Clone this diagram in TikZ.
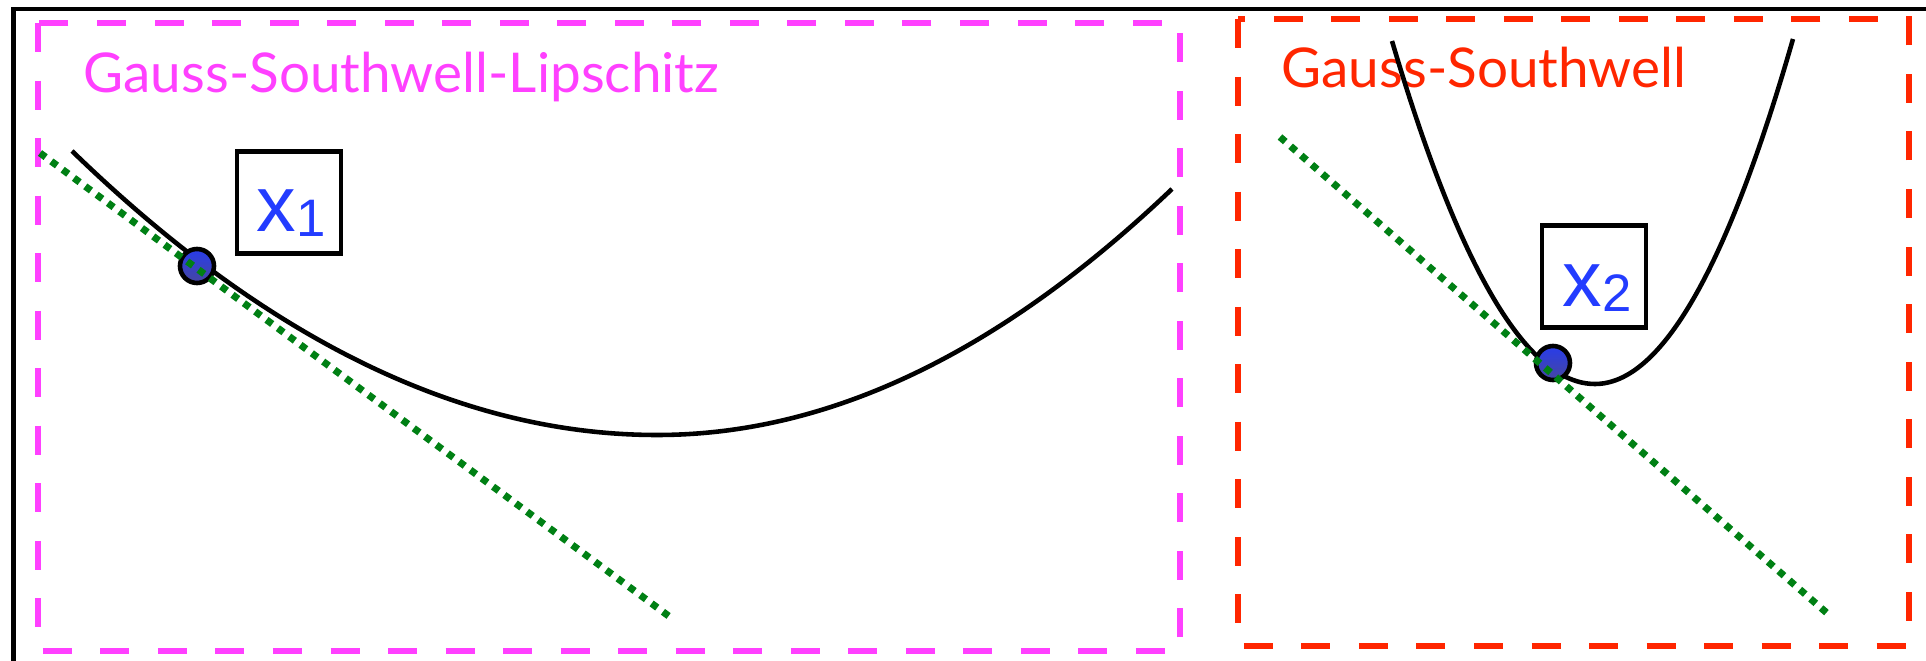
\documentclass[tikz,border=0pt]{standalone}
\usepackage{fontspec}
\setmainfont{Lato}
\newfontfamily\helv{Liberation Sans}
\definecolor{gslmag}{RGB}{255,64,255}
\definecolor{gsred}{RGB}{255,38,0}
\definecolor{tgreen}{RGB}{0,128,20}
\definecolor{xblue}{RGB}{35,60,255}
\definecolor{dottop}{RGB}{40,60,235}
\definecolor{dotbot}{RGB}{70,70,160}
\begin{document}
\begin{tikzpicture}[x=0.01cm,y=-0.01cm,
  frame/.style={line width=1.2pt},
  gslbox/.style={draw=gslmag, line width=1.45pt, dash pattern=on 0.29cm off 0.285cm},
  gsbox/.style={draw=gsred, line width=1.45pt, dash pattern=on 0.29cm off 0.285cm},
  fcurve/.style={line width=1.3pt},
  tangent/.style={draw=tgreen, line width=2pt, dash pattern=on 2pt off 2pt},
  iterate/.style={circle, draw, line width=1.3pt, minimum size=0.34cm, inner sep=0pt, top color=dottop, bottom color=dotbot},
  xbox/.style={draw, line width=1.2pt, minimum width=1.04cm, minimum height=1.02cm, inner sep=0pt},
  title/.style={font=\fontsize{15.6}{16}\selectfont, anchor=base west, inner sep=0pt},
  xlab/.style={text=xblue, anchor=base west, inner sep=0pt, font=\helv\fontsize{22.5}{22}\selectfont},
]
\useasboundingbox (0,0) rectangle (1926,661);
% outer frame
\draw[frame] (13.5,661) -- (13.5,9) -- (1926,9);
% dashed boxes
\draw[gslbox] (38,23) rectangle (1180,651);
\draw[gsbox] (1238,19) rectangle (1909,646);
% titles
\node[title, text=gslmag] (tgsl) at (83,93) {Gauss-Southwell-Lipschitz};
\node[title, text=gsred] (tgs) at (1281,88) {Gauss-Southwell};
% curves
\draw[fcurve] (72,151) .. controls (267,340) and (462,435) .. (657,435)
  .. controls (829,435) and (1000,353) .. (1172,189);
\draw[fcurve] (1392,41) .. controls (1459.7,269.7) and (1527.3,384) .. (1595,384)
  .. controls (1661,384) and (1727,269) .. (1793,39);
% iterates
\node[iterate] (d1) at (197,266) {};
\node[iterate] (d2) at (1553,363) {};
% tangent lines
\coordinate (g1a) at (40,153);
\coordinate (g1b) at (670,617);
\coordinate (g2a) at (1280,137);
\coordinate (g2b) at (1828,614);
\draw[tangent] (g1a) -- (g1b);
\draw[tangent] (g2a) -- (g2b);
% labels
\node[xbox] (b1) at (289,202.5) {};
\node[xbox] (b2) at (1594,276.5) {};
\node[xlab] (x1) at (256,232) {x\raisebox{-0.05cm}{\fontsize{15}{15}\selectfont 1}};
\node[xlab] (x2) at (1562,307) {x\raisebox{-0.05cm}{\fontsize{15}{15}\selectfont 2}};
\end{tikzpicture}
\end{document}
